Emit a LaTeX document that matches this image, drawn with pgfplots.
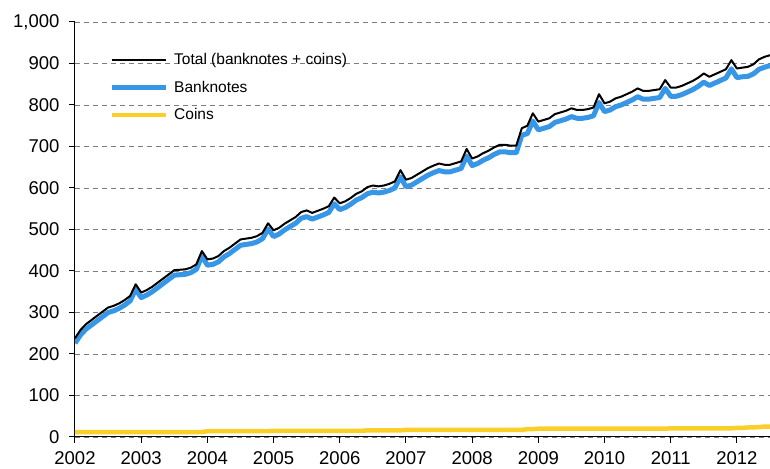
\documentclass[border=0pt]{standalone}
\usepackage{pgfplots}
\pgfplotsset{compat=1.18}
\usepackage{pgfplotstable}
\usepackage{fontspec}
\setmainfont{Liberation Sans}
\definecolor{bnblue}{RGB}{55,150,230}
\definecolor{cnyellow}{RGB}{250,208,40}
\definecolor{gridgray}{RGB}{125,125,125}

% x = year + month/12, T = total, B = banknotes, C = coins (EUR billion)
\pgfplotstableread{
x T B C
2002.0000 238 226 12
2002.0833 258 246 12
2002.1667 272 260 12
2002.2500 282 270 12
2002.3333 292 280 12
2002.4167 302 290 12
2002.5000 312 300 12
2002.5833 316 304 12
2002.6667 322 310 12
2002.7500 330 318 12
2002.8333 340 328 12
2002.9167 368 356 12
2003.0000 348 336 12
2003.0833 354 342 12
2003.1667 362 350 12
2003.2500 372 360 12
2003.3333 382 370 12
2003.4167 392 380 12
2003.5000 402 390 12
2003.5833 403 391 12
2003.6667 404 392 12
2003.7500 408 396 12
2003.8333 416 404 12
2003.9167 448 436 12
2004.0000 428 414 14
2004.0833 430 416 14
2004.1667 436 422 14
2004.2500 448 434 14
2004.3333 456 442 14
2004.4167 466 452 14
2004.5000 476 462 14
2004.5833 478 464 14
2004.6667 480 466 14
2004.7500 484 470 14
2004.8333 492 478 14
2004.9167 515 501 14
2005.0000 498 483 15
2005.0833 504 489 15
2005.1667 514 499 15
2005.2500 522 507 15
2005.3333 530 515 15
2005.4167 542 527 15
2005.5000 546 531 15
2005.5833 540 525 15
2005.6667 545 530 15
2005.7500 550 535 15
2005.8333 556 541 15
2005.9167 577 562 15
2006.0000 563 548 15
2006.0833 568 553 15
2006.1667 576 561 15
2006.2500 586 571 15
2006.3333 592 577 15
2006.4167 602 586 16
2006.5000 606 590 16
2006.5833 604 588 16
2006.6667 606 590 16
2006.7500 610 594 16
2006.8333 616 600 16
2006.9167 643 627 16
2007.0000 620 603 17
2007.0833 624 607 17
2007.1667 632 615 17
2007.2500 640 623 17
2007.3333 648 631 17
2007.4167 654 637 17
2007.5000 659 642 17
2007.5833 656 639 17
2007.6667 656 639 17
2007.7500 660 643 17
2007.8333 664 647 17
2007.9167 694 677 17
2008.0000 671 654 17
2008.0833 676 659 17
2008.1667 684 667 17
2008.2500 690 673 17
2008.3333 698 681 17
2008.4167 704 687 17
2008.5000 704 687 17
2008.5833 702 685 17
2008.6667 702 685 17
2008.7500 744 727 17
2008.8333 750 731 19
2008.9167 780 761 19
2009.0000 760 740 20
2009.0833 764 744 20
2009.1667 768 748 20
2009.2500 778 758 20
2009.3333 782 762 20
2009.4167 786 766 20
2009.5000 792 772 20
2009.5833 788 768 20
2009.6667 788 768 20
2009.7500 790 770 20
2009.8333 794 774 20
2009.9167 826 806 20
2010.0000 804 784 20
2010.0833 808 788 20
2010.1667 816 796 20
2010.2500 820 800 20
2010.3333 826 806 20
2010.4167 832 812 20
2010.5000 840 820 20
2010.5833 834 814 20
2010.6667 834 814 20
2010.7500 836 816 20
2010.8333 838 818 20
2010.9167 860 840 20
2011.0000 842 821 21
2011.0833 842 821 21
2011.1667 846 825 21
2011.2500 852 831 21
2011.3333 858 837 21
2011.4167 866 845 21
2011.5000 876 855 21
2011.5833 868 847 21
2011.6667 874 853 21
2011.7500 880 859 21
2011.8333 886 865 21
2011.9167 908 887 21
2012.0000 888 866 22
2012.0833 890 868 22
2012.1667 892 869 23
2012.2500 898 875 23
2012.3333 910 886 24
2012.4167 916 891 25
2012.5000 920 895 25
}\money

\begin{document}
\begin{tikzpicture}
\useasboundingbox (-75pt,-31pt) rectangle (695pt,437pt);
\begin{axis}[
  at={(0,0)}, anchor=south west,
  scale only axis,
  width=695pt, height=415pt,
  xmin=2002, xmax=2012.5,
  ymin=0, ymax=1000,
  axis x line*=bottom, axis y line*=left,
  axis line style={black, line width=1pt, -},
  xtick={2002,2003,...,2012},
  ytick={0,100,...,1000},
  tick align=outside,
  major tick length=6pt,
  tick style={black, line width=1pt},
  xticklabel style={/pgf/number format/set thousands separator={}},
  yticklabel style={/pgf/number format/1000 sep={,}},
  /pgf/number format/assume math mode=true,
  tick label style={font=\fontsize{18.5}{20}\selectfont},
  xticklabel style={yshift=-5pt},
  yticklabel style={xshift=-6pt},
  ymajorgrids,
  major grid style={gridgray, line width=0.9pt, dash pattern=on 5pt off 4pt},
  reverse legend,
  legend style={at={(34pt,1)}, anchor=north west, yshift=-29pt,
    draw=none, fill=none, font=\fontsize{15.5}{18}\selectfont,
    row sep=11pt, inner sep=0pt},
  legend cell align=left,
  legend image code/.code={\draw[#1] (0pt,0pt) -- (54pt,0pt); \path (58pt,0pt);},
]
\addplot[cnyellow, line width=4.5pt, no markers] table[x=x, y=C] {\money};
\addlegendentry{Coins}
\addplot[bnblue, line width=5pt, no markers, line join=round] table[x=x, y=B] {\money};
\addlegendentry{Banknotes}
\addplot[black, line width=2pt, no markers, line join=round] table[x=x, y=T] {\money};
\addlegendentry{Total (banknotes + coins)}
\end{axis}
\end{tikzpicture}
\end{document}
